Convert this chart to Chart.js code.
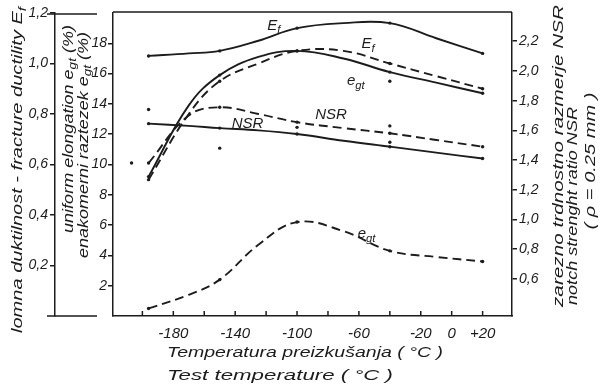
<!DOCTYPE html>
<html>
<head>
<meta charset="utf-8">
<script src="https://cdn.jsdelivr.net/npm/chart.js@4.4.1/dist/chart.umd.min.js"></script>
<style>
  body { margin: 0; background: #fff; }
  canvas { display: block; }
</style>
</head>
<body>
<canvas id="chart" width="604" height="389"></canvas>
<script>
const temps = [-196, -170, -150, -125, -100, -70, -40, -10, 20];
const measuredTemps = [-196, -150, -100, -40, 20];

// fracture ductility Ef (left outer axis)
const efSolid = [1.03, 1.04, 1.05, 1.09, 1.14, 1.16, 1.16, 1.10, 1.04];
const efDashed = [0.54, 0.80, 0.93, 1.00, 1.05, 1.05, 1.00, 0.95, 0.90];

// uniform elongation egt in % (left inner axis)
const egtSolid = [9.2, 13.9, 15.9, 17.1, 17.5, 17.0, 16.1, 15.4, 14.7];
const egtDashed = [0.5, 1.4, 2.4, 4.7, 6.2, 5.6, 4.3, 3.9, 3.6];

// notch strength ratio NSR (right axis)
const nsrSolid = [1.645, 1.63, 1.615, 1.60, 1.575, 1.53, 1.49, 1.45, 1.41];
const nsrDashed = [1.38, 1.70, 1.755, 1.71, 1.655, 1.615, 1.58, 1.535, 1.49];

// loose measured points
const dotTemps = [-207, -196, -150, -100, -40, -40, -40];
const dotNsr = [1.38, 1.74, 1.48, 1.62, 1.63, 1.52, 1.93];

// tick values
const xTicks = [-200, -180, -160, -140, -120, -100, -80, -60, -40, -20, 0, 20];
const xLabelled = [-180, -140, -100, -60, -20, 0, 20];
const efTicks = [0.2, 0.4, 0.6, 0.8, 1.0, 1.2];
const egtTicks = [2, 4, 6, 8, 10, 12, 14, 16, 18];
const nsrTicks = [0.6, 0.8, 1.0, 1.2, 1.4, 1.6, 1.8, 2.0, 2.2];

const ink = "#1c1c1c";
const family = "\"Liberation Sans\", \"DejaVu Sans\", sans-serif";
const font = (size) => `italic ${size}px ${family}`;

function points(values) {
  return temps.map((t, i) => ({ x: t, y: values[i] }));
}

function curve(label, values, axis, dashed) {
  return {
    label,
    data: points(values),
    yAxisID: axis,
    borderColor: ink,
    backgroundColor: ink,
    borderWidth: 1.9,
    borderDash: dashed ? [9, 5] : [],
    tension: 0.4,
    pointRadius: (ctx) => (ctx.raw && measuredTemps.includes(ctx.raw.x) ? 1.7 : 0),
    pointBorderWidth: 0,
    fill: false
  };
}

function drawRich(ctx, parts, x, y, size, angle, length) {
  ctx.save();
  ctx.translate(x, y);
  ctx.rotate(angle);
  let width = 0;
  parts.forEach(([text, sub]) => {
    ctx.font = font(sub ? size * 0.75 : size);
    width += ctx.measureText(text).width;
  });
  if (length) {
    ctx.scale(length / width, 1);
  }
  ctx.textAlign = "left";
  ctx.textBaseline = "alphabetic";
  ctx.fillStyle = ink;
  let cx = -width / 2;
  parts.forEach(([text, sub]) => {
    ctx.font = font(sub ? size * 0.75 : size);
    ctx.fillText(text, cx, sub ? size * 0.6 : size * 0.36);
    cx += ctx.measureText(text).width;
  });
  ctx.restore();
}

const up = -Math.PI / 2;

const annotate = {
  id: "annotate",
  afterDraw(chart) {
    const { ctx, chartArea, scales } = chart;
    const x = scales.x;
    ctx.save();
    ctx.strokeStyle = ink;
    ctx.lineWidth = 1.5;
    ctx.beginPath();
    // ticks on the temperature axis point into the plot
    x.ticks.forEach((tick) => {
      const px = x.getPixelForValue(tick.value);
      ctx.moveTo(px, chartArea.bottom);
      ctx.lineTo(px, chartArea.bottom - 5);
    });
    // frame top
    ctx.moveTo(chartArea.left, chartArea.top - 1);
    ctx.lineTo(chartArea.right, chartArea.top - 1);
    // caps of the ductility axis
    const ef = scales.yEf;
    ctx.moveTo(ef.right - 8, ef.top + 1);
    ctx.lineTo(ef.right + 42, ef.top + 1);
    ctx.moveTo(ef.right - 8, ef.bottom);
    ctx.lineTo(ef.right + 42, ef.bottom);
    ctx.stroke();

    // axis titles
    drawRich(ctx, [["lomna duktilnost - fracture ductility E", false], ["f", true]], 17, 170, 15, up, 326);
    drawRich(ctx, [["uniform elongation e", false], ["gt", true], [" (%)", false]], 68, 129, 14, up, 208);
    drawRich(ctx, [["enakomerni raztezek e", false], ["gt", true], [" (%)", false]], 83, 145, 14, up, 226);
    drawRich(ctx, [["zarezno trdnostno razmerje NSR", false]], 558, 156, 15, up, 302);
    drawRich(ctx, [["notch strenght ratio NSR", false]], 572, 206, 15, up, 198);
    drawRich(ctx, [["( \u03c1 = 0.25 mm )", false]], 590, 161, 15, up, 137);
    drawRich(ctx, [["Temperatura preizkušanja ( °C )", false]], 305, 352, 15, 0, 276);
    drawRich(ctx, [["Test temperature ( °C )", false]], 280, 375, 15, 0, 226);

    // curve labels, placed in data coordinates
    const labels = [
      [[["E", false], ["f", true]], -115, 1.156, "yEf"],
      [[["E", false], ["f", true]], -54, 1.081, "yEf"],
      [[["e", false], ["gt", true]], -62, 15.6, "yEgt"],
      [[["NSR", false]], -132, 1.649, "yNsr"],
      [[["NSR", false]], -78, 1.716, "yNsr"],
      [[["e", false], ["gt", true]], -55, 5.5, "yEgt"]
    ];
    labels.forEach(([parts, t, v, axis]) => {
      drawRich(ctx, parts, x.getPixelForValue(t), scales[axis].getPixelForValue(v), 15, 0);
    });
    ctx.restore();
  }
};

const axisLine = { color: ink, width: 1.5 };
const tickGrid = { drawOnChartArea: false, color: ink, lineWidth: 1.5, tickLength: 5 };
const comma = (v) => Number(v).toFixed(1).replace(".", ",");

new Chart(document.getElementById("chart"), {
  type: "line",
  data: {
    datasets: [
      curve("Ef", efSolid, "yEf", false),
      curve("Ef", efDashed, "yEf", true),
      curve("egt", egtSolid, "yEgt", false),
      curve("egt", egtDashed, "yEgt", true),
      curve("NSR", nsrSolid, "yNsr", false),
      curve("NSR", nsrDashed, "yNsr", true),
      {
        label: "points",
        data: dotTemps.map((t, i) => ({ x: t, y: dotNsr[i] })),
        yAxisID: "yNsr",
        showLine: false,
        pointRadius: 1.7,
        pointBorderWidth: 0,
        backgroundColor: ink,
        borderColor: ink
      }
    ]
  },
  options: {
    responsive: false,
    devicePixelRatio: 1,
    animation: false,
    layout: { padding: { top: 13, left: 0, right: 0, bottom: 0 } },
    plugins: {
      legend: { display: false },
      tooltip: { enabled: false }
    },
    scales: {
      x: {
        type: "linear",
        min: -219,
        max: 39,
        afterBuildTicks: (scale) => { scale.ticks = xTicks.map((v) => ({ value: v })); },
        afterFit: (scale) => { scale.height = 73; },
        grid: { drawOnChartArea: false, drawTicks: false },
        border: axisLine,
        ticks: {
          autoSkip: false,
          maxRotation: 0,
          padding: 9,
          color: ink,
          font: { family, size: 15, style: "italic" },
          callback: (v) => (xLabelled.includes(v) ? (v > 0 ? "+" + v : String(v)) : "")
        }
      },
      yEf: {
        position: "left",
        weight: 1,
        min: 0,
        max: 1.2,
        afterBuildTicks: (scale) => { scale.ticks = efTicks.map((v) => ({ value: v })); },
        afterFit: (scale) => { scale.width = 55; },
        grid: tickGrid,
        border: axisLine,
        ticks: { padding: 2, color: ink, font: { family, size: 14, style: "italic" }, callback: comma }
      },
      yEgt: {
        position: "left",
        weight: 0,
        min: 0,
        max: 20,
        afterBuildTicks: (scale) => { scale.ticks = egtTicks.map((v) => ({ value: v })); },
        afterFit: (scale) => { scale.width = 58; },
        grid: tickGrid,
        border: axisLine,
        ticks: { padding: 1, color: ink, font: { family, size: 14, style: "italic" } }
      },
      yNsr: {
        position: "right",
        min: 0.35,
        max: 2.39,
        afterBuildTicks: (scale) => { scale.ticks = nsrTicks.map((v) => ({ value: v })); },
        afterFit: (scale) => { scale.width = 92; },
        grid: tickGrid,
        border: axisLine,
        ticks: { padding: 2, color: ink, font: { family, size: 14, style: "italic" }, callback: comma }
      }
    }
  },
  plugins: [annotate]
});
</script>
</body>
</html>
